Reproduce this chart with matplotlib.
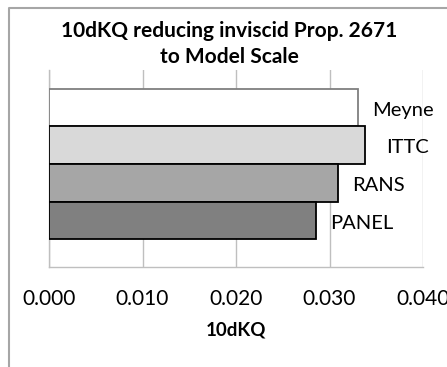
import matplotlib.pyplot as plt
from matplotlib.lines import Line2D

methods = ["Meyne", "ITTC", "RANS", "PANEL"]
kq_values = [0.0331, 0.0338, 0.0309, 0.0286]
bar_colors = ["#ffffff", "#d9d9d9", "#a6a6a6", "#808080"]
edge_colors = ["#7f7f7f", "#000000", "#000000", "#000000"]
x_ticks = [0.000, 0.010, 0.020, 0.030, 0.040]

plt.rcParams['font.family'] = ['Lato', 'DejaVu Sans']

fig = plt.figure(figsize=(4.47, 3.67), dpi=100)

ax = fig.add_axes([49 / 447, 100 / 367, 374 / 447, 197 / 367])

pos = list(range(len(methods)))
ax.barh(pos, kq_values, height=1.0, color=bar_colors,
        edgecolor=edge_colors, linewidth=1.3, zorder=3)

# series names sit just past the end of each bar
offsets = [10, 15, 10, 10]
for y, v, name, off in zip(pos, kq_values, methods, offsets):
    ax.annotate(name, (v, y), xytext=(off, -2), textcoords="offset points",
                va="center", ha="left", fontsize=14.5, color="#000000",
                zorder=4)

ax.set_xlim(0, 0.04)
ax.set_ylim(4.24, -1.0)
ax.set_xticks(x_ticks)
ax.set_xticklabels([f"{t:.3f}" for t in x_ticks], fontsize=15)
ax.set_yticks([])
ax.tick_params(axis="x", length=0, pad=16)
ax.grid(axis="x", color="#bfbfbf", linewidth=1.0, zorder=0)

for side in ("top", "right"):
    ax.spines[side].set_visible(False)
for side in ("left", "bottom"):
    ax.spines[side].set_color("#bfbfbf")
    ax.spines[side].set_linewidth(1.0)

ax.set_xlabel("10dKQ", fontsize=13.5, fontweight="bold", labelpad=9)
fig.text(229 / 447, 1 - 44 / 367,
         "10dKQ reducing inviscid Prop. 2671\nto Model Scale",
         ha="center", va="center", fontsize=15, fontweight="bold",
         linespacing=1.4)

# chart frame, drawn in pixel units: only its top and left edges fall inside the image
W, H = 447, 367
frame = Line2D([W + 5, 8.5, 8.5], [H - 8, H - 8, -5], transform=None,
               color="#a6a6a6", linewidth=1.5, zorder=10)
fig.add_artist(frame)

fig.savefig("out.png", dpi=100)
